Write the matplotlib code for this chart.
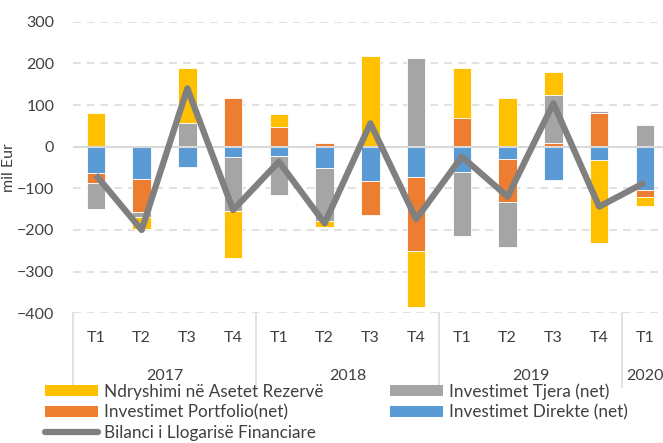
import numpy as np
import matplotlib.pyplot as plt
from matplotlib.patches import Patch
from matplotlib.lines import Line2D

# %% Data (mil Eur)
quarters = ['T1', 'T2', 'T3', 'T4', 'T1', 'T2', 'T3', 'T4', 'T1', 'T2', 'T3', 'T4', 'T1']
years = ['2017', '2018', '2019', '2020']
year_sizes = [4, 4, 4, 1]

direkte = [-64, -78, -49, -25, -22, -51, -82, -72, -62, -30, -79, -32, -104]
portfolio = [-24, -78, 0, 116, 48, 10, -81, -178, 70, -103, 8, 81, -18]
tjera = [-62, -14, 56, -129, -94, -127, 0, 214, -152, -108, 116, 5, 53]
rezerve = [80, -28, 132, -114, 30, -14, 218, -135, 118, 118, 56, -199, -20]
bilanci = [-68, -200, 140, -152, -36, -184, 56, -174, -24, -120, 104, -144, -86]

# %% Style
plt.rcParams['font.family'] = ['Lato', 'DejaVu Sans']
fs = 11.5
c_yellow, c_orange, c_gray, c_blue, c_line = '#FFC000', '#ED7D31', '#A5A5A5', '#5B9BD5', '#808080'
grid_c = '#D9D9D9'
txt_c = '#404040'

W, H = 663, 443
fig = plt.figure(figsize=(W / 100, H / 100), dpi=100)
left_px, top_px, bot_px = 73, 21.7, 313.3
ax = fig.add_axes([left_px / W, 1 - bot_px / H, 1 - left_px / W, (bot_px - top_px) / H])

cat_w = 45.75  # pixel width of one category
x = np.arange(len(quarters))

# %% Stacked bars, positives and negatives stacked separately
series = [(direkte, c_blue), (portfolio, c_orange), (tjera, c_gray), (rezerve, c_yellow)]
pos_bottom = np.zeros(len(x))
neg_bottom = np.zeros(len(x))
for vals, col in series:
    v = np.array(vals, dtype=float)
    bottom = np.where(v >= 0, pos_bottom, neg_bottom)
    ax.bar(x, v, 0.4, bottom=bottom, color=col, edgecolor='white', linewidth=0.6, zorder=2)
    pos_bottom += np.where(v >= 0, v, 0)
    neg_bottom += np.where(v < 0, v, 0)

ax.plot(x, bilanci, color=c_line, linewidth=4.5, solid_joinstyle='round', solid_capstyle='butt', zorder=4)

# %% Axes
ax.set_xlim(-0.5, -0.5 + (W - left_px) / cat_w)
ax.set_ylim(-400, 300)
ax.set_yticks(range(-400, 301, 100))
ax.tick_params(axis='y', length=0, pad=13.5, labelsize=fs, labelcolor=txt_c)
ax.set_xticks([])
for s in ax.spines.values():
    s.set_visible(False)
ax.grid(axis='y', color=grid_c, linestyle=(0, (5, 4)), linewidth=1.1, zorder=0)
ax.axhline(0, color=grid_c, linewidth=1.5, zorder=3)
ax.set_ylabel('mil Eur', fontsize=fs, color=txt_c)
ax.yaxis.set_label_coords(-0.097, 0.5)

# %% Multi-level category axis
ax_h = bot_px - top_px
xt = ax.get_xaxis_transform()
for i, q in enumerate(quarters):
    ax.text(i, -(338 - bot_px) / ax_h, q, transform=xt, ha='center', va='center',
            fontsize=fs, color=txt_c, clip_on=False)
edges = np.concatenate([[0], np.cumsum(year_sizes)]) - 0.5
for j, yr in enumerate(years):
    ax.text((edges[j] + edges[j + 1]) / 2, -(376 - bot_px) / ax_h, yr, transform=xt,
            ha='center', va='center', fontsize=fs, color=txt_c, clip_on=False)
for e in edges:
    ax.plot([e, e], [0, -(387 - bot_px) / ax_h], transform=xt, color=grid_c,
            linewidth=1.1, clip_on=False)

# %% Legend
handles = [
    Patch(facecolor=c_yellow, label='Ndryshimi në Asetet Rezervë'),
    Patch(facecolor=c_orange, label='Investimet Portfolio(net)'),
    Line2D([], [], color=c_line, linewidth=4.5, solid_capstyle='round', label='Bilanci i Llogarisë Financiare'),
    Patch(facecolor=c_gray, label='Investimet Tjera (net)'),
    Patch(facecolor=c_blue, label='Investimet Direkte (net)'),
]
leg = fig.legend(handles=handles, ncol=2, loc='upper left', bbox_to_anchor=(45 / W, 1 - 383 / H),
                 frameon=False, fontsize=12.3, borderpad=0, borderaxespad=0,
                 handlelength=3.1, handleheight=0.65, handletextpad=0.35,
                 labelspacing=0.28, columnspacing=3.9)
for t in leg.get_texts():
    t.set_color(txt_c)

fig.savefig('out.png', dpi=100)
